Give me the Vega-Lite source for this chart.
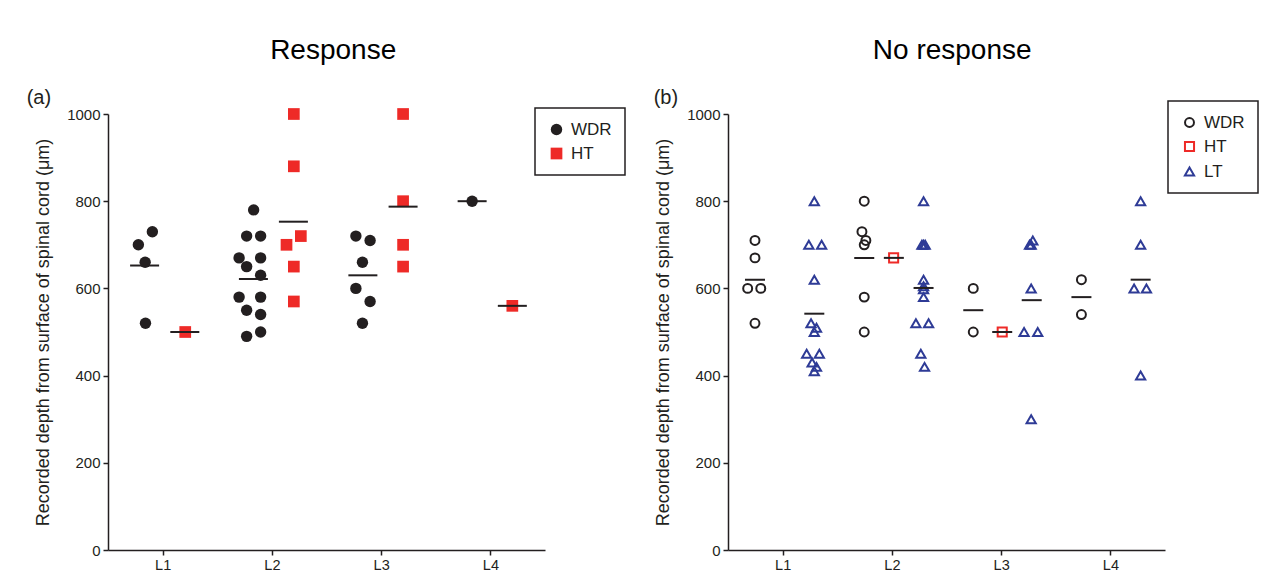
{
  "$schema": "https://vega.github.io/schema/vega-lite/v6.json",
  "background": "white",
  "padding": {"left": 26, "top": 37, "right": 5, "bottom": 5},
  "datasets": {
    "resp": [
      {"level": "L1", "type": "WDR", "x": 0.906, "depth": 730},
      {"level": "L1", "type": "WDR", "x": 0.778, "depth": 700},
      {"level": "L1", "type": "WDR", "x": 0.84, "depth": 660},
      {"level": "L1", "type": "WDR", "x": 0.843, "depth": 520},
      {"level": "L1", "type": "HT", "x": 1.207, "depth": 500},
      {"level": "L2", "type": "WDR", "x": 1.833, "depth": 780},
      {"level": "L2", "type": "WDR", "x": 1.769, "depth": 720},
      {"level": "L2", "type": "WDR", "x": 1.897, "depth": 720},
      {"level": "L2", "type": "WDR", "x": 1.7, "depth": 670},
      {"level": "L2", "type": "WDR", "x": 1.897, "depth": 670},
      {"level": "L2", "type": "WDR", "x": 1.769, "depth": 650},
      {"level": "L2", "type": "WDR", "x": 1.897, "depth": 630},
      {"level": "L2", "type": "WDR", "x": 1.7, "depth": 580},
      {"level": "L2", "type": "WDR", "x": 1.897, "depth": 580},
      {"level": "L2", "type": "WDR", "x": 1.769, "depth": 550},
      {"level": "L2", "type": "WDR", "x": 1.897, "depth": 540},
      {"level": "L2", "type": "WDR", "x": 1.769, "depth": 490},
      {"level": "L2", "type": "WDR", "x": 1.897, "depth": 500},
      {"level": "L2", "type": "HT", "x": 2.201, "depth": 1000},
      {"level": "L2", "type": "HT", "x": 2.201, "depth": 880},
      {"level": "L2", "type": "HT", "x": 2.265, "depth": 720},
      {"level": "L2", "type": "HT", "x": 2.134, "depth": 700},
      {"level": "L2", "type": "HT", "x": 2.201, "depth": 650},
      {"level": "L2", "type": "HT", "x": 2.201, "depth": 570},
      {"level": "L3", "type": "WDR", "x": 2.769, "depth": 720},
      {"level": "L3", "type": "WDR", "x": 2.899, "depth": 710},
      {"level": "L3", "type": "WDR", "x": 2.829, "depth": 660},
      {"level": "L3", "type": "WDR", "x": 2.769, "depth": 600},
      {"level": "L3", "type": "WDR", "x": 2.899, "depth": 570},
      {"level": "L3", "type": "WDR", "x": 2.829, "depth": 520},
      {"level": "L3", "type": "HT", "x": 3.201, "depth": 1000},
      {"level": "L3", "type": "HT", "x": 3.201, "depth": 800},
      {"level": "L3", "type": "HT", "x": 3.201, "depth": 700},
      {"level": "L3", "type": "HT", "x": 3.201, "depth": 650},
      {"level": "L4", "type": "WDR", "x": 3.833, "depth": 800},
      {"level": "L4", "type": "HT", "x": 4.201, "depth": 560}
    ],
    "resp_mean": [
      {"level": "L1", "type": "WDR", "x": 0.835, "depth": 652.5},
      {"level": "L2", "type": "WDR", "x": 1.831, "depth": 621.5},
      {"level": "L3", "type": "WDR", "x": 2.833, "depth": 630},
      {"level": "L4", "type": "WDR", "x": 3.833, "depth": 800},
      {"level": "L1", "type": "HT", "x": 1.203, "depth": 500},
      {"level": "L2", "type": "HT", "x": 2.197, "depth": 753},
      {"level": "L3", "type": "HT", "x": 3.201, "depth": 787.5},
      {"level": "L4", "type": "HT", "x": 4.201, "depth": 560}
    ],
    "noresp": [
      {"level": "L1", "type": "WDR", "x": 0.747, "depth": 710},
      {"level": "L1", "type": "WDR", "x": 0.747, "depth": 670},
      {"level": "L1", "type": "WDR", "x": 0.68, "depth": 600},
      {"level": "L1", "type": "WDR", "x": 0.8, "depth": 600},
      {"level": "L1", "type": "WDR", "x": 0.747, "depth": 520},
      {"level": "L1", "type": "LT", "x": 1.29, "depth": 800},
      {"level": "L1", "type": "LT", "x": 1.24, "depth": 700},
      {"level": "L1", "type": "LT", "x": 1.357, "depth": 700},
      {"level": "L1", "type": "LT", "x": 1.29, "depth": 620},
      {"level": "L1", "type": "LT", "x": 1.26, "depth": 520},
      {"level": "L1", "type": "LT", "x": 1.31, "depth": 510},
      {"level": "L1", "type": "LT", "x": 1.29, "depth": 500},
      {"level": "L1", "type": "LT", "x": 1.22, "depth": 450},
      {"level": "L1", "type": "LT", "x": 1.336, "depth": 450},
      {"level": "L1", "type": "LT", "x": 1.27, "depth": 430},
      {"level": "L1", "type": "LT", "x": 1.31, "depth": 420},
      {"level": "L1", "type": "LT", "x": 1.29, "depth": 410},
      {"level": "L2", "type": "WDR", "x": 1.747, "depth": 800},
      {"level": "L2", "type": "WDR", "x": 1.726, "depth": 730},
      {"level": "L2", "type": "WDR", "x": 1.762, "depth": 710},
      {"level": "L2", "type": "WDR", "x": 1.747, "depth": 700},
      {"level": "L2", "type": "WDR", "x": 1.747, "depth": 580},
      {"level": "L2", "type": "WDR", "x": 1.747, "depth": 500},
      {"level": "L2", "type": "HT", "x": 2.016, "depth": 670},
      {"level": "L2", "type": "LT", "x": 2.29, "depth": 800},
      {"level": "L2", "type": "LT", "x": 2.275, "depth": 700},
      {"level": "L2", "type": "LT", "x": 2.29, "depth": 700},
      {"level": "L2", "type": "LT", "x": 2.305, "depth": 700},
      {"level": "L2", "type": "LT", "x": 2.29, "depth": 620},
      {"level": "L2", "type": "LT", "x": 2.29, "depth": 605},
      {"level": "L2", "type": "LT", "x": 2.29, "depth": 598},
      {"level": "L2", "type": "LT", "x": 2.29, "depth": 580},
      {"level": "L2", "type": "LT", "x": 2.22, "depth": 520},
      {"level": "L2", "type": "LT", "x": 2.336, "depth": 520},
      {"level": "L2", "type": "LT", "x": 2.265, "depth": 450},
      {"level": "L2", "type": "LT", "x": 2.299, "depth": 420},
      {"level": "L3", "type": "WDR", "x": 2.745, "depth": 600},
      {"level": "L3", "type": "WDR", "x": 2.745, "depth": 500},
      {"level": "L3", "type": "HT", "x": 3.01, "depth": 500},
      {"level": "L3", "type": "LT", "x": 3.26, "depth": 700},
      {"level": "L3", "type": "LT", "x": 3.29, "depth": 710},
      {"level": "L3", "type": "LT", "x": 3.275, "depth": 700},
      {"level": "L3", "type": "LT", "x": 3.275, "depth": 600},
      {"level": "L3", "type": "LT", "x": 3.21, "depth": 500},
      {"level": "L3", "type": "LT", "x": 3.335, "depth": 500},
      {"level": "L3", "type": "LT", "x": 3.275, "depth": 300},
      {"level": "L4", "type": "WDR", "x": 3.735, "depth": 620},
      {"level": "L4", "type": "WDR", "x": 3.735, "depth": 540},
      {"level": "L4", "type": "LT", "x": 4.277, "depth": 800},
      {"level": "L4", "type": "LT", "x": 4.277, "depth": 700},
      {"level": "L4", "type": "LT", "x": 4.217, "depth": 600},
      {"level": "L4", "type": "LT", "x": 4.33, "depth": 600},
      {"level": "L4", "type": "LT", "x": 4.277, "depth": 400}
    ],
    "noresp_mean": [
      {"level": "L1", "type": "WDR", "x": 0.747, "depth": 620},
      {"level": "L2", "type": "WDR", "x": 1.747, "depth": 670},
      {"level": "L3", "type": "WDR", "x": 2.745, "depth": 550},
      {"level": "L4", "type": "WDR", "x": 3.735, "depth": 580},
      {"level": "L2", "type": "HT", "x": 2.018, "depth": 670},
      {"level": "L3", "type": "HT", "x": 3.01, "depth": 500},
      {"level": "L1", "type": "LT", "x": 1.29, "depth": 542},
      {"level": "L2", "type": "LT", "x": 2.29, "depth": 601},
      {"level": "L3", "type": "LT", "x": 3.28, "depth": 573},
      {"level": "L4", "type": "LT", "x": 4.277, "depth": 620}
    ]
  },
  "hconcat": [
    {
      "title": {"text": "Response", "fontSize": 28, "fontWeight": "normal", "color": "#000000", "offset": 23, "anchor": "middle", "dx": 7},
      "vconcat": [
        {
          "title": {"text": "(a)", "fontSize": 20, "fontWeight": "normal", "color": "#231f20", "anchor": "start", "frame": "bounds", "dx": -8, "offset": -1},
          "width": 437,
          "height": 436,
          "layer": [
            {
              "data": {"name": "resp"},
              "mark": {"type": "point", "filled": true, "opacity": 1},
              "encoding": {
                "x": {"field": "x", "type": "quantitative", "scale": {"domain": [0.5, 4.5], "nice": false, "zero": false},
                      "axis": {"title": null, "values": [1, 2, 3, 4], "labelExpr": "'L' + datum.value"}},
                "y": {"field": "depth", "type": "quantitative", "scale": {"domain": [0, 1000], "nice": false},
                      "axis": {"title": "Recorded depth from surface of spinal cord (μm)", "values": [0, 200, 400, 600, 800, 1000], "format": "d"}},
                "color": {"field": "type", "type": "nominal", "scale": {"domain": ["WDR", "HT"], "range": ["#231f20", "#ee2a27"]},
                          "legend": {"title": null, "orient": "none", "legendX": 427, "legendY": -6}},
                "shape": {"field": "type", "type": "nominal", "scale": {"domain": ["WDR", "HT"], "range": ["circle", "square"]},
                          "legend": {"title": null, "orient": "none", "legendX": 427, "legendY": -6}},
                "size": {"field": "type", "type": "nominal", "scale": {"domain": ["WDR", "HT"], "range": [130, 137]}, "legend": null}
              }
            },
            {
              "data": {"name": "resp_mean"},
              "mark": {"type": "tick", "orient": "horizontal", "size": 29, "thickness": 2, "color": "#231f20", "opacity": 1},
              "encoding": {
                "x": {"field": "x", "type": "quantitative"},
                "y": {"field": "depth", "type": "quantitative"}
              }
            }
          ]
        }
      ]
    },
    {
      "title": {"text": "No response", "fontSize": 28, "fontWeight": "normal", "color": "#000000", "offset": 23, "anchor": "middle", "dx": -4},
      "vconcat": [
        {
          "title": {"text": "(b)", "fontSize": 20, "fontWeight": "normal", "color": "#231f20", "anchor": "start", "frame": "bounds", "dx": -1, "offset": -1},
          "width": 437,
          "height": 436,
          "layer": [
            {
              "data": {"name": "noresp"},
              "mark": {"type": "point", "filled": false, "strokeWidth": 2, "opacity": 1},
              "encoding": {
                "x": {"field": "x", "type": "quantitative", "scale": {"domain": [0.5, 4.5], "nice": false, "zero": false},
                      "axis": {"title": null, "values": [1, 2, 3, 4], "labelExpr": "'L' + datum.value"}},
                "y": {"field": "depth", "type": "quantitative", "scale": {"domain": [0, 1000], "nice": false},
                      "axis": {"title": "Recorded depth from surface of spinal cord (μm)", "values": [0, 200, 400, 600, 800, 1000], "format": "d"}},
                "color": {"field": "type", "type": "nominal", "scale": {"domain": ["WDR", "HT", "LT"], "range": ["#231f20", "#ee2a27", "#2e3b96"]},
                          "legend": {"title": null, "orient": "none", "legendX": 440, "legendY": -13}},
                "shape": {"field": "type", "type": "nominal", "scale": {"domain": ["WDR", "HT", "LT"], "range": ["circle", "square", "triangle-up"]},
                          "legend": {"title": null, "orient": "none", "legendX": 440, "legendY": -13}},
                "size": {"field": "type", "type": "nominal", "scale": {"domain": ["WDR", "HT", "LT"], "range": [80, 85, 85]}, "legend": null}
              }
            },
            {
              "data": {"name": "noresp_mean"},
              "mark": {"type": "tick", "orient": "horizontal", "size": 20, "thickness": 2, "color": "#231f20", "opacity": 1},
              "encoding": {
                "x": {"field": "x", "type": "quantitative"},
                "y": {"field": "depth", "type": "quantitative"}
              }
            }
          ]
        }
      ]
    }
  ],
  "spacing": 27,
  "resolve": {
    "scale": {"color": "independent", "shape": "independent", "size": "independent", "x": "independent", "y": "independent"},
    "legend": {"color": "independent", "shape": "independent"}
  },
  "config": {
    "font": "Liberation Sans",
    "view": {"stroke": null},
    "axis": {
      "grid": false,
      "labelFontSize": 15,
      "labelColor": "#231f20",
      "labelFont": "Liberation Sans",
      "titleFont": "Liberation Sans",
      "titleFontSize": 18,
      "titleFontWeight": "normal",
      "titleColor": "#231f20",
      "domainColor": "#231f20",
      "domainWidth": 1.5,
      "tickColor": "#231f20",
      "tickWidth": 1.5,
      "tickSize": 5,
      "labelPadding": 3
    },
    "axisX": {"labelFontSize": 14.5},
    "axisY": {"titlePadding": 14},
    "legend": {
      "strokeColor": "#231f20",
      "strokeWidth": 1.5,
      "padding": 13,
      "labelFontSize": 17,
      "labelColor": "#231f20",
      "labelFont": "Liberation Sans",
      "symbolSize": 85,
      "symbolStrokeWidth": 2,
      "rowPadding": 6,
      "labelOffset": 6,
      "fillColor": "white"
    },
    "title": {"font": "Liberation Sans"}
  }
}
